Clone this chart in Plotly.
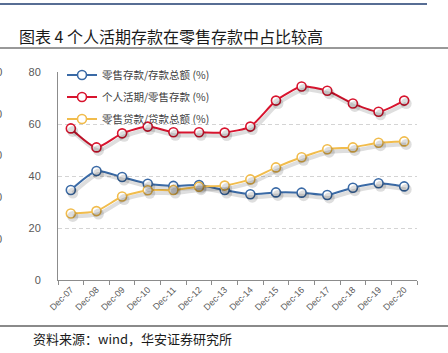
import plotly.graph_objects as go

categories = ["Dec-07", "Dec-08", "Dec-09", "Dec-10", "Dec-11", "Dec-12", "Dec-13",
              "Dec-14", "Dec-15", "Dec-16", "Dec-17", "Dec-18", "Dec-19", "Dec-20"]
retail_dep_share = [34.6, 41.9, 39.6, 37.0, 36.2, 36.5, 34.6, 33.0, 33.7, 33.6, 32.7, 35.5, 37.2, 36.0]
personal_demand_share = [58.3, 51.0, 56.4, 59.0, 56.8, 56.8, 56.7, 59.0, 69.0, 74.4, 72.8, 67.9, 64.7, 69.0]
retail_loan_share = [25.6, 26.5, 32.1, 34.5, 34.6, 35.9, 36.3, 38.7, 43.3, 47.2, 50.3, 51.0, 52.8, 53.3]

series_names = ["零售存款/存款总额 (%)", "个人活期/零售存款 (%)", "零售贷款/贷款总额 (%)"]
series_values = [retail_dep_share, personal_demand_share, retail_loan_share]
series_colors = ["#3a6aa6", "#d8142e", "#f1bc4c"]
y_ticks = [0, 20, 40, 60, 80]
ghost_ticks = ["100", "80", "60", "40", "20"]

W, H = 448, 353
ML, MR, MT, MB = 58, 31, 72, 73
PW, PH = W - ML - MR, H - MT - MB
FONT = "Noto Sans CJK SC"

fig = go.Figure()

# drop shadows (offset axes)
dx = 2.0 / (PW / len(categories))
dy = 3.0 / (PH / 80.0)
for vals in series_values:
    fig.add_trace(go.Scatter(
        x=categories, y=vals, xaxis="x2", yaxis="y2", mode="lines+markers",
        line=dict(color="rgba(0,0,0,0.13)", width=4, shape="spline", smoothing=0.6),
        marker=dict(size=11, color="rgba(0,0,0,0.13)", line=dict(width=0)),
        showlegend=False, hoverinfo="skip"))

legend_ids = ["legend", "legend2", "legend3"]
for name, vals, col, lg in zip(series_names, series_values, series_colors, legend_ids):
    fig.add_trace(go.Scatter(
        x=categories, y=vals, name=name, mode="lines+markers",
        line=dict(color=col, width=2, shape="spline", smoothing=0.6),
        marker=dict(size=9, color="white", line=dict(color=col, width=1.6)),
        legend=lg))

def legend_cfg(ypx):
    return dict(
        x=(62 - ML) / PW, y=1 - (ypx - MT) / PH, xanchor="left", yanchor="middle",
        bgcolor="rgba(255,255,255,0)", borderwidth=0,
        font=dict(family=FONT, size=10.5, color="#404040"),
        itemwidth=30, tracegroupgap=0)

fig.update_layout(
    width=W, height=H,
    margin=dict(l=ML, r=MR, t=MT, b=MB),
    paper_bgcolor="white", plot_bgcolor="white",
    showlegend=True,
    legend=legend_cfg(75),
    legend2=legend_cfg(97),
    legend3=legend_cfg(119),
    xaxis=dict(type="category", categoryorder="array", categoryarray=categories,
               range=[-0.5, len(categories) - 0.5],
               tickson="boundaries", ticks="outside", ticklen=4, tickcolor="#8c8c8c",
               showline=True, linecolor="#8c8c8c", linewidth=1,
               showgrid=False, tickangle=-45,
               tickfont=dict(family="Liberation Sans", size=9, color="#595959")),
    yaxis=dict(range=[0, 80], tickvals=y_ticks, showline=True, linecolor="#8c8c8c",
               linewidth=1, showgrid=True, gridcolor="#d4d4d4", griddash="4px,3px",
               gridwidth=1, zeroline=False, ticks="", ticklabelstandoff=14,
               tickfont=dict(family="Liberation Sans", size=11, color="#595959")),
    xaxis2=dict(type="category", categoryorder="array", categoryarray=categories,
                range=[-0.5 - dx, len(categories) - 0.5 - dx], overlaying="x",
                visible=False),
    yaxis2=dict(range=[dy, 80 + dy], overlaying="y", visible=False),
)

# header / footer decorations
fig.add_shape(type="line", xref="paper", yref="paper",
              x0=(0 - ML) / PW, x1=(427 - ML) / PW,
              y0=1 + (MT - 4) / PH, y1=1 + (MT - 4) / PH,
              line=dict(color="#1f3c70", width=1.5))
fig.add_shape(type="line", xref="paper", yref="paper",
              x0=(0 - ML) / PW, x1=(W - ML) / PW,
              y0=1 + (MT - 48) / PH, y1=1 + (MT - 48) / PH,
              line=dict(color="#333333", width=1))
fig.add_shape(type="line", xref="paper", yref="paper",
              x0=(0 - ML) / PW, x1=(W - ML) / PW,
              y0=-(326 - MT - PH) / PH, y1=-(326 - MT - PH) / PH,
              line=dict(color="#8a8a8a", width=2))

fig.add_annotation(text="图表 4 个人活期存款在零售存款中占比较高",
                   xref="paper", yref="paper", x=(17 - ML) / PW, y=1 + (MT - 36) / PH,
                   xanchor="left", yanchor="middle", showarrow=False,
                   font=dict(family=FONT, size=16, color="#1a1a1a"))
fig.add_annotation(text="资料来源：wind，华安证券研究所",
                   xref="paper", yref="paper", x=(31 - ML) / PW, y=-(338 - MT - PH) / PH,
                   xanchor="left", yanchor="middle", showarrow=False,
                   font=dict(family=FONT, size=13, color="#1a1a1a"))

for i, t in enumerate(ghost_ticks):
    ypx = 72 + i * 41.7
    fig.add_annotation(text=t, xref="paper", yref="paper", x=(4 - ML) / PW,
                       y=1 - (ypx - MT) / PH, xanchor="right", yanchor="middle",
                       showarrow=False,
                       font=dict(family="Liberation Sans", size=11, color="#595959"))

fig.write_html("out.html")
